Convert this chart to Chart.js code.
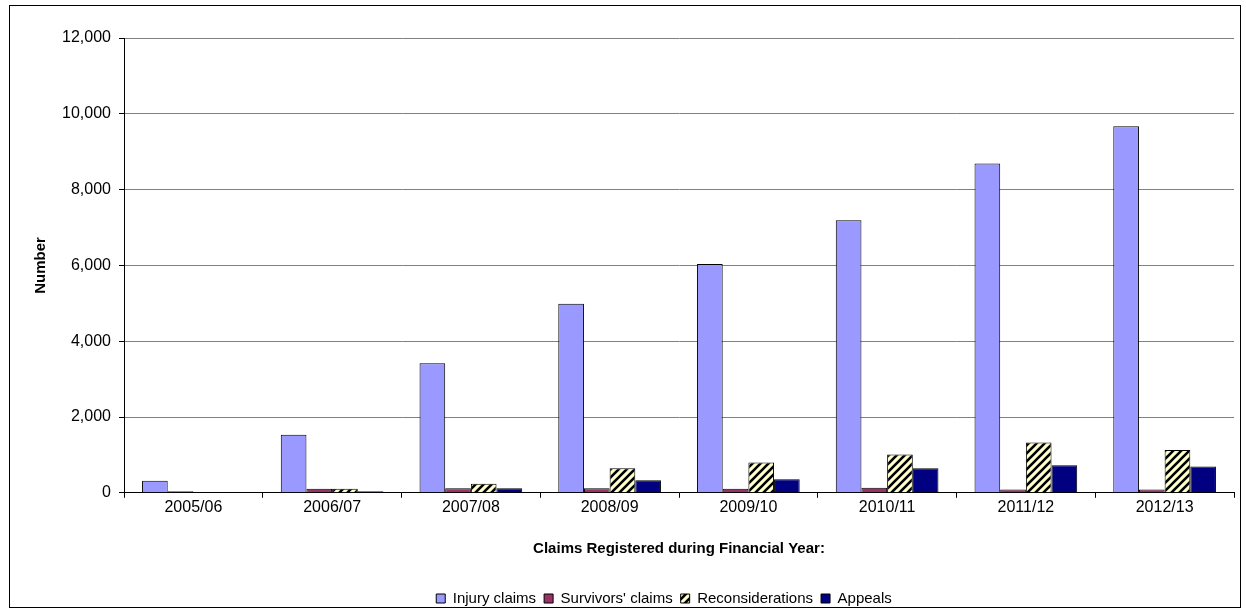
<!DOCTYPE html>
<html>
<head>
<meta charset="utf-8">
<script src="https://cdn.jsdelivr.net/npm/chart.js@4.4.0/dist/chart.umd.min.js"></script>
<style>
  html, body { margin: 0; padding: 0; background: #fff; }
  #wrap { position: relative; width: 1246px; height: 613px; }
  #frame { position: absolute; left: 9px; top: 5px; width: 1232px; height: 603px; border: 1px solid #000; box-sizing: border-box; pointer-events: none; }
  #claims_chart { position: absolute; left: 0; top: 0; }
</style>
</head>
<body>
<div id="wrap">
  <canvas id="claims_chart" width="1246" height="613"></canvas>
  <div id="frame"></div>
</div>
<script>
// financial years on the x axis
const years = ["2005/06", "2006/07", "2007/08", "2008/09", "2009/10", "2010/11", "2011/12", "2012/13"]

// claims registered per year, one array per series
const injury_claims = [320, 1530, 3420, 4990, 6040, 7190, 8690, 9670]
const survivors_claims = [40, 110, 120, 120, 110, 130, 90, 90]
const reconsiderations = [0, 110, 240, 650, 800, 1010, 1330, 1130]
const appeals = [0, 40, 120, 330, 355, 650, 730, 695]

// y axis runs 0 - 12,000 in steps of 2,000
const y_max = 12000
const y_step = 2000

const font_name = "'Liberation Sans', Arial, sans-serif"

// pale yellow fill with thick black upward diagonals
function make_hatch() {
  const tile = document.createElement('canvas')
  tile.width = 8
  tile.height = 8
  const g = tile.getContext('2d')
  g.fillStyle = '#ffffcc'
  g.fillRect(0, 0, 8, 8)
  g.strokeStyle = '#000'
  g.lineWidth = 2.6
  g.beginPath()
  g.moveTo(-2, 10); g.lineTo(10, -2)
  g.moveTo(-2, 2); g.lineTo(2, -2)
  g.moveTo(6, 10); g.lineTo(10, 6)
  g.stroke()
  return g.createPattern(tile, 'repeat')
}

const hatch = make_hatch()

function bar_set(label, values, fill) {
  return {
    label: label,
    data: values,
    backgroundColor: fill,
    borderColor: '#000',
    borderWidth: 1,
    categoryPercentage: 0.74,
    barPercentage: 1.0
  }
}

// nudge the legend a little lower and to the right of its default spot
const legend_nudge = {
  id: 'legend_nudge',
  afterLayout(chart) {
    const lg = chart.legend
    if (!lg) return
    lg.left += 33
    lg.right += 33
    lg.top += 7
    lg.bottom += 7
  }
}

const chart_data = {
  labels: years,
  datasets: [
    bar_set('Injury claims', injury_claims, '#9999ff'),
    bar_set("Survivors' claims", survivors_claims, '#993366'),
    bar_set('Reconsiderations', reconsiderations, hatch),
    bar_set('Appeals', appeals, '#000080')
  ]
}

const claims_config = {
  type: 'bar',
  data: chart_data,
  plugins: [legend_nudge],
  options: {
    responsive: false,
    animation: false,
    layout: { padding: { left: 28, right: 12, top: 38, bottom: 4 } },
    plugins: {
      tooltip: { enabled: false },
      legend: {
        position: 'bottom',
        labels: {
          color: '#000',
          font: { family: font_name, size: 15 },
          boxWidth: 9,
          boxHeight: 9,
          padding: 8
        }
      }
    },
    scales: {
      x: {
        grid: { display: true, drawOnChartArea: false, offset: true, tickLength: 5, color: '#000' },
        border: { color: '#000', width: 1 },
        ticks: { color: '#000', font: { family: font_name, size: 16 }, padding: 0, maxRotation: 0 },
        title: {
          display: true,
          text: 'Claims Registered during Financial Year:',
          color: '#000',
          font: { family: font_name, size: 15, weight: 'bold' },
          padding: { top: 23, bottom: 18 }
        }
      },
      y: {
        min: 0,
        max: y_max,
        afterFit: (scale) => { scale.width = 96 },
        grid: { color: '#808080', tickColor: '#000', tickLength: 5, lineWidth: 1 },
        border: { color: '#000', width: 1 },
        ticks: {
          stepSize: y_step,
          color: '#000',
          padding: 8,
          font: { family: font_name, size: 16 },
          callback: (v) => v.toLocaleString('en-US')
        },
        title: {
          display: true,
          text: 'Number',
          color: '#000',
          font: { family: font_name, size: 15, weight: 'bold' },
          padding: { top: 4, bottom: 4 }
        }
      }
    }
  }
}

const claimsChart = new Chart(document.getElementById('claims_chart'), claims_config)
</script>
</body>
</html>
